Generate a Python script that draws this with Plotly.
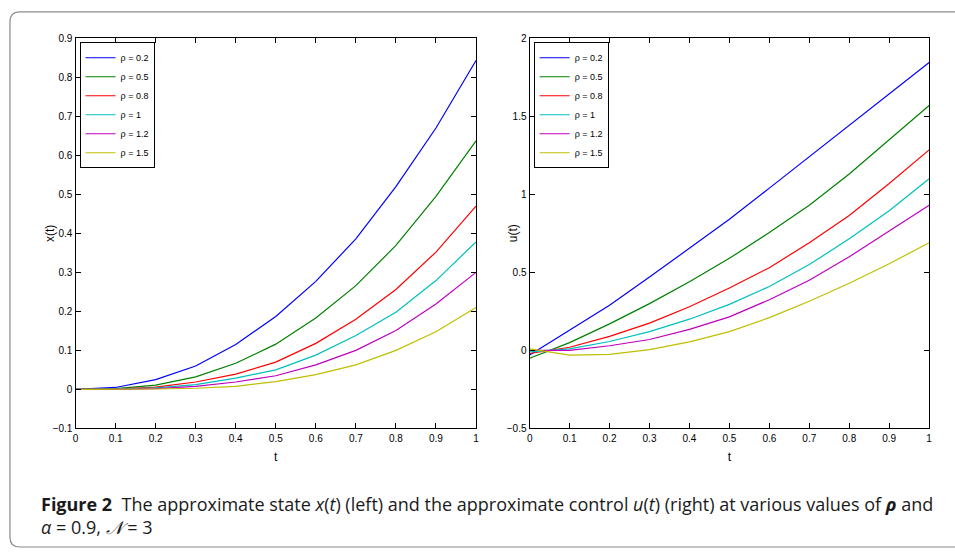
import plotly.graph_objects as go

t = [0, 0.1, 0.2, 0.3, 0.4, 0.5, 0.6, 0.7, 0.8, 0.9, 1.0]
rho_labels = ["ρ = 0.2", "ρ = 0.5", "ρ = 0.8", "ρ = 1", "ρ = 1.2", "ρ = 1.5"]
colors = ["#0000ff", "#008000", "#ff0000", "#00bfbf", "#bf00bf", "#bfbf00"]

x_state = [
    [0, 0.005, 0.025, 0.060, 0.115, 0.187, 0.277, 0.386, 0.520, 0.670, 0.843],
    [0, 0.002, 0.011, 0.032, 0.067, 0.116, 0.183, 0.266, 0.369, 0.495, 0.637],
    [0, 0.001, 0.006, 0.019, 0.039, 0.070, 0.118, 0.180, 0.256, 0.352, 0.470],
    [0, 0.001, 0.004, 0.0125, 0.029, 0.050, 0.088, 0.138, 0.198, 0.279, 0.378],
    [0, 0.000, 0.002, 0.008, 0.019, 0.035, 0.063, 0.100, 0.151, 0.219, 0.300],
    [0, 0.000, 0.001, 0.003, 0.008, 0.020, 0.038, 0.063, 0.100, 0.148, 0.210],
]
u_control = [
    [-0.03, 0.13, 0.29, 0.47, 0.655, 0.84, 1.04, 1.24, 1.44, 1.64, 1.845],
    [-0.05, 0.05, 0.17, 0.30, 0.44, 0.59, 0.755, 0.93, 1.13, 1.35, 1.57],
    [-0.02, 0.02, 0.09, 0.175, 0.28, 0.40, 0.53, 0.69, 0.865, 1.07, 1.285],
    [-0.01, 0.01, 0.057, 0.12, 0.20, 0.295, 0.41, 0.55, 0.715, 0.895, 1.10],
    [0.0, 0.0, 0.03, 0.07, 0.135, 0.215, 0.325, 0.45, 0.60, 0.765, 0.93],
    [0.01, -0.03, -0.025, 0.005, 0.055, 0.12, 0.21, 0.315, 0.43, 0.555, 0.69],
]

x_ticks_vals = [0, 0.1, 0.2, 0.3, 0.4, 0.5, 0.6, 0.7, 0.8, 0.9, 1]
x_ticks_text = ["0", "0.1", "0.2", "0.3", "0.4", "0.5", "0.6", "0.7", "0.8", "0.9", "1"]
y1_ticks_vals = [-0.1, 0, 0.1, 0.2, 0.3, 0.4, 0.5, 0.6, 0.7, 0.8, 0.9]
y1_ticks_text = ["\u22120.1", "0", "0.1", "0.2", "0.3", "0.4", "0.5", "0.6", "0.7", "0.8", "0.9"]
y2_ticks_vals = [-0.5, 0, 0.5, 1, 1.5, 2]
y2_ticks_text = ["\u22120.5", "0", "0.5", "1", "1.5", "2"]

W, H = 955, 554
FONT = "Liberation Sans, Arial, Helvetica, sans-serif"
fig = go.Figure()

for i in range(6):
    fig.add_trace(go.Scatter(x=t, y=x_state[i], mode="lines", name=rho_labels[i],
                             line=dict(color=colors[i], width=1.2),
                             xaxis="x", yaxis="y", legend="legend"))
for i in range(6):
    fig.add_trace(go.Scatter(x=t, y=u_control[i], mode="lines", name=rho_labels[i],
                             line=dict(color=colors[i], width=1.2),
                             xaxis="x2", yaxis="y2", legend="legend2"))

tickfont = dict(family=FONT, size=10, color="black")
axis_common = dict(showline=True, linecolor="black", linewidth=1.3, mirror="ticks",
                   ticks="inside", ticklen=5, tickcolor="black", tickwidth=1,
                   showgrid=False, zeroline=False, tickfont=tickfont)
title_font = dict(size=12, family=FONT, color="black")


def px(x):
    return x / W


def py(y):
    return 1 - y / H


ydom = [py(432), py(34)]
legend_common = dict(xanchor="left", yanchor="top", bordercolor="black", borderwidth=1,
                     bgcolor="white", font=dict(size=9, family=FONT, color="black"),
                     itemwidth=30, tracegroupgap=0)
fig.update_layout(
    width=W, height=H,
    margin=dict(l=0, r=0, t=0, b=0),
    paper_bgcolor="white", plot_bgcolor="white",
    xaxis=dict(domain=[px(73), px(476)], range=[0, 1], tickvals=x_ticks_vals, ticktext=x_ticks_text,
               title=dict(text="t", font=title_font, standoff=10),
               anchor="y", **axis_common),
    yaxis=dict(domain=ydom, range=[-0.1, 0.9], tickvals=y1_ticks_vals, ticktext=y1_ticks_text,
               anchor="x", **axis_common),
    xaxis2=dict(domain=[px(530), px(932)], range=[0, 1], tickvals=x_ticks_vals, ticktext=x_ticks_text,
                title=dict(text="t", font=title_font, standoff=10),
                anchor="y2", **axis_common),
    yaxis2=dict(domain=ydom, range=[-0.5, 2], tickvals=y2_ticks_vals, ticktext=y2_ticks_text,
                anchor="x2", **axis_common),
    legend=dict(x=px(77), y=py(38), **legend_common),
    legend2=dict(x=px(534), y=py(38), **legend_common),
    showlegend=True,
)

# y-axis titles placed close to the axes as in the reference
fig.add_annotation(text="x(t)", xref="paper", yref="paper", x=px(48), y=py(233), textangle=-90,
                   showarrow=False, font=title_font, xanchor="center", yanchor="middle")
fig.add_annotation(text="u(t)", xref="paper", yref="paper", x=px(514), y=py(233), textangle=-90,
                   showarrow=False, font=title_font, xanchor="center", yanchor="middle")

# frame around figure and caption
path = (f"M {px(975)},{py(7)} L {px(17)},{py(7)} Q {px(7)},{py(7)} {px(7)},{py(17)} "
        f"L {px(7)},{py(543)} Q {px(7)},{py(553)} {px(17)},{py(553)} L {px(975)},{py(553)}")
fig.add_shape(type="path", path=path, xref="paper", yref="paper",
              line=dict(color="#8a8a8a", width=1.2))

caption = ("<b>Figure 2</b>  The approximate state <i>x</i>(<i>t</i>) (left) and the approximate control "
           "<i>u</i>(<i>t</i>) (right) at various values of <i><b>ρ</b></i> and<br>"
           "<i>α</i> = 0.9, <i>𝒩</i> = 3")
fig.add_annotation(text=caption, xref="paper", yref="paper", x=px(36), y=py(495),
                   xanchor="left", yanchor="top", align="left", showarrow=False,
                   font=dict(size=18, family="Open Sans, sans-serif", color="#1a1a1a"))

fig.write_html("out.html")
